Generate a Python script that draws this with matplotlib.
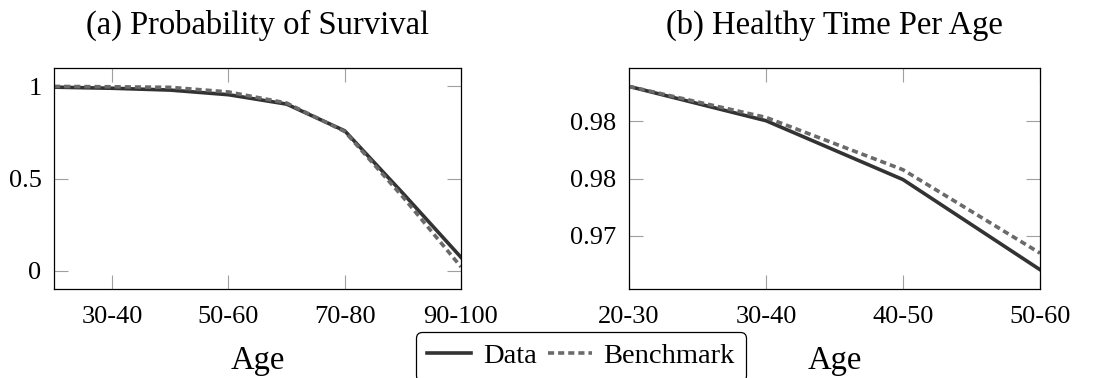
import matplotlib
matplotlib.use("Agg")
import matplotlib.pyplot as plt

plt.rcParams['font.family'] = ['Liberation Serif', 'DejaVu Serif']

# survival probability by age group
surv_ages = ['20-30', '30-40', '40-50', '50-60', '60-70', '70-80', '80-90', '90-100']
surv_data = [0.996, 0.990, 0.980, 0.955, 0.904, 0.759, 0.420, 0.072]
surv_bench = [1.000, 0.998, 0.995, 0.970, 0.910, 0.755, 0.400, 0.020]
surv_ticks = ['30-40', '50-60', '70-80', '90-100']

# healthy time per age
health_ages = ['20-30', '30-40', '40-50', '50-60']
health_data = [0.98306, 0.98006, 0.97491, 0.96703]
health_bench = [0.98306, 0.98035, 0.97577, 0.96848]
health_yticks = [0.97, 0.975, 0.98]
health_ylabels = ['0.97', '0.98', '0.98']

data_col = '#333333'
bench_col = '#6a6a6a'

fig = plt.figure(figsize=(11.16, 3.78), dpi=100)
ax1 = fig.add_axes([54/1116, 1-289/378, (461-54)/1116, (289-68)/378])
ax2 = fig.add_axes([629/1116, 1-289/378, (1040-629)/1116, (289-68)/378])

for ax in (ax1, ax2):
    ax.tick_params(direction='in', top=True, right=True, length=10, width=0.8,
                   color='#a0a0a0', labelsize=19, pad=9)
    ax.tick_params(axis='x', pad=12)
    for s in ax.spines.values():
        s.set_linewidth(0.9)

x1 = list(range(len(surv_ages)))
ax1.plot(x1, surv_data, color=data_col, lw=2.6, label='Data')
ax1.plot(x1, surv_bench, color=bench_col, lw=2.6, dashes=(1.7, 1.1), label='Benchmark')
ax1.set_xlim(0, len(surv_ages) - 1)
ax1.set_ylim(-0.1, 1.1)
ax1.set_xticks([surv_ages.index(t) for t in surv_ticks])
ax1.set_xticklabels(surv_ticks)
ax1.set_yticks([0, 0.5, 1])
ax1.set_yticklabels(['0', '0.5', '1'])
ax1.set_title('(a) Probability of Survival', fontsize=23.5, pad=25)
ax1.set_xlabel('Age', fontsize=23.5, labelpad=13)

x2 = list(range(len(health_ages)))
ax2.plot(x2, health_data, color=data_col, lw=2.6, label='Data')
ax2.plot(x2, health_bench, color=bench_col, lw=2.6, dashes=(1.7, 1.1), label='Benchmark')
ax2.set_xlim(0, len(health_ages) - 1)
ax2.set_ylim(0.96534, 0.98467)
ax2.set_xticks(x2)
ax2.set_xticklabels(health_ages)
ax2.set_yticks(health_yticks)
ax2.set_yticklabels(health_ylabels)
ax2.set_title('(b) Healthy Time Per Age', fontsize=23.5, pad=25)
ax2.set_xlabel('Age', fontsize=23.5, labelpad=13)

h, l = ax1.get_legend_handles_labels()
leg = fig.legend(h, l, loc='upper center', bbox_to_anchor=(581/1116, 1-332/378), ncol=2,
                 fontsize=20.5, frameon=True, fancybox=True, handlelength=1.55,
                 handletextpad=0.4, columnspacing=0.4, borderpad=0.4, borderaxespad=0)
leg.get_frame().set_edgecolor('black')
leg.get_frame().set_linewidth(0.9)
leg.get_frame().set_alpha(1)

fig.savefig('out.png', dpi=100)
